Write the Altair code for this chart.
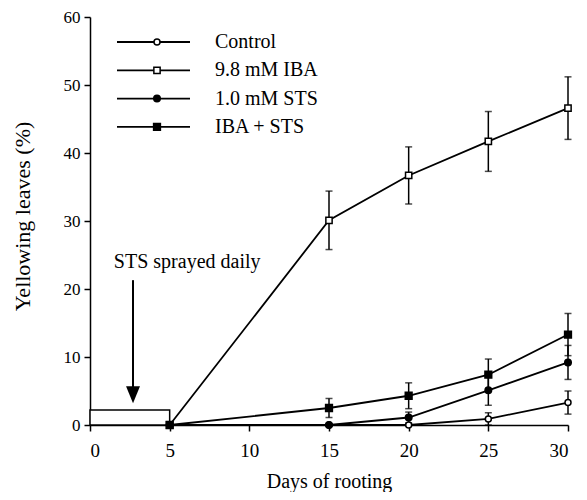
import altair as alt
import pandas as pd

# ---- data ----
days = [5, 15, 20, 25, 30]
series = ["Control", "9.8 mM IBA", "1.0 mM STS", "IBA + STS"]
control = [0, 0, 0, 0.9, 3.3]
control_err = [0, 0, 0, 0.9, 1.7]
iba = [0, 30.1, 36.7, 41.7, 46.6]
iba_err = [0, 4.3, 4.2, 4.4, 4.6]
sts = [0, 0, 1.1, 5.1, 9.2]
sts_err = [0, 0, 0.8, 2.2, 2.5]
ibasts = [0, 2.5, 4.3, 7.4, 13.3]
ibasts_err = [0, 1.4, 1.9, 2.3, 3.1]

spray_days = [0, 5]
spray_box_height = 2.2
arrow_day = 2.7
arrow_from, arrow_to = 21.3, 5.5
arrow_head = 4.45
note_text = "STS sprayed daily"
note_day, note_value = 6.1, 24.0

FONT = "Liberation Serif"

values = [control, iba, sts, ibasts]
errors = [control_err, iba_err, sts_err, ibasts_err]
rows = []
for s, vals, errs in zip(series, values, errors):
    for d, v, e in zip(days, vals, errs):
        rows.append({"series": s, "day": d, "value": v, "err": e,
                     "lo": v - e, "hi": v + e})
df = pd.DataFrame(rows)
df_err = df[df["err"] > 0]

shape_scale = alt.Scale(domain=series, range=["circle", "square", "circle", "square"])
fill_scale = alt.Scale(domain=series, range=["white", "white", "black", "black"])
size_scale = alt.Scale(domain=series, range=[36, 46, 42, 50])

xs = alt.Scale(domain=[0, 30], nice=False, zero=False)
ys = alt.Scale(domain=[0, 60], nice=False)

x_axis = alt.Axis(values=[0, 5, 10, 15, 20, 25, 30], title="Days of rooting",
                  grid=False, domainColor="black", domainWidth=1.5,
                  tickColor="black", tickWidth=1.5, tickSize=6,
                  labelFont=FONT, labelFontSize=19, labelColor="black",
                  labelPadding=10, titleFont=FONT, titleFontSize=20,
                  titleFontWeight="normal", titleColor="black",
                  titleY=56, titleBaseline="middle")
y_axis = alt.Axis(values=[0, 10, 20, 30, 40, 50, 60], title="Yellowing leaves (%)",
                  grid=False, domainColor="black", domainWidth=1.5,
                  tickColor="black", tickWidth=1.5, tickSize=6,
                  labelFont=FONT, labelFontSize=17, labelColor="black",
                  labelPadding=4, titleFont=FONT, titleFontSize=22,
                  titleFontWeight="normal", titleColor="black",
                  titleX=-68, titleY=199, titleAngle=270, titleBaseline="middle",
                  titleAlign="center")

base = alt.Chart(df)

box = alt.Chart(pd.DataFrame({"x": [spray_days[0]], "x2": [spray_days[1]],
                              "y": [0], "y2": [spray_box_height]})).mark_rect(
    fill="white", stroke="black", strokeWidth=1.5).encode(
    x=alt.X("x:Q", scale=xs, axis=x_axis), x2="x2:Q",
    y=alt.Y("y:Q", scale=ys, axis=y_axis), y2="y2:Q")

lines = base.mark_line(color="black", strokeWidth=1.8).encode(
    x=alt.X("day:Q", scale=xs),
    y=alt.Y("value:Q", scale=ys),
    detail="series:N")

err_rules = alt.Chart(df_err).mark_rule(color="black", strokeWidth=1.5).encode(
    x=alt.X("day:Q", scale=xs), y=alt.Y("lo:Q", scale=ys), y2="hi:Q")
cap_lo = alt.Chart(df_err).mark_tick(color="black", thickness=1.5, size=7,
                                     orient="horizontal").encode(
    x=alt.X("day:Q", scale=xs), y=alt.Y("lo:Q", scale=ys))
cap_hi = alt.Chart(df_err).mark_tick(color="black", thickness=1.5, size=7,
                                     orient="horizontal").encode(
    x=alt.X("day:Q", scale=xs), y=alt.Y("hi:Q", scale=ys))

points = base.mark_point(stroke="black", strokeWidth=1.5, opacity=1,
                         filled=False).encode(
    x=alt.X("day:Q", scale=xs),
    y=alt.Y("value:Q", scale=ys),
    shape=alt.Shape("series:N", scale=shape_scale, legend=None),
    fill=alt.Fill("series:N", scale=fill_scale, legend=None),
    size=alt.Size("series:N", scale=size_scale, legend=None))

arrow_df = pd.DataFrame({"x": [arrow_day], "y": [arrow_from], "y2": [arrow_to],
                         "h": [arrow_head]})
arrow_line = alt.Chart(arrow_df).mark_rule(color="black", strokeWidth=2).encode(
    x=alt.X("x:Q", scale=xs), y=alt.Y("y:Q", scale=ys), y2="y2:Q")
arrow_tip = alt.Chart(arrow_df).mark_point(
    shape="M-0.82,-1L0.82,-1L0,1Z", filled=True, color="black", size=289,
    opacity=1).encode(x=alt.X("x:Q", scale=xs), y=alt.Y("h:Q", scale=ys))

note = alt.Chart(pd.DataFrame({"x": [note_day], "y": [note_value], "t": [note_text]})).mark_text(
    font=FONT, fontSize=20, color="black", align="center", baseline="middle").encode(
    x=alt.X("x:Q", scale=xs), y=alt.Y("y:Q", scale=ys), text="t:N")

# ---- legend drawn in pixel space ----
leg_rows = pd.DataFrame({"series": series, "i": list(range(len(series)))})
LEG_Y0, LEG_DY = 25.0, 28.3
leg = alt.Chart(leg_rows).transform_calculate(
    py=f"{LEG_Y0} + datum.i * {LEG_DY}", x1="27", x2="100", xm="67", xt="125")
leg_lines = leg.mark_rule(color="black", strokeWidth=1.8).encode(
    x=alt.X("x1:Q", scale=None), x2="x2:Q", y=alt.Y("py:Q", scale=None))
leg_pts = leg.mark_point(stroke="black", strokeWidth=1.5, opacity=1, filled=False).encode(
    x=alt.X("xm:Q", scale=None), y=alt.Y("py:Q", scale=None),
    shape=alt.Shape("series:N", scale=shape_scale, legend=None),
    fill=alt.Fill("series:N", scale=fill_scale, legend=None),
    size=alt.Size("series:N", scale=size_scale, legend=None))
leg_text = leg.mark_text(font=FONT, fontSize=20, color="black", align="left",
                         baseline="middle").encode(
    x=alt.X("xt:Q", scale=None), y=alt.Y("py:Q", scale=None), text="series:N")

chart = alt.layer(
    box, lines, err_rules, cap_lo, cap_hi, points,
    arrow_line, arrow_tip, note, leg_lines, leg_pts, leg_text
).resolve_scale(
    shape="shared", fill="shared", size="shared"
).properties(
    width=478, height=408,
    autosize=alt.AutoSizeParams(type="none"),
    padding={"left": 82, "top": 9, "right": 11, "bottom": 67},
    background="white"
).configure_view(stroke=None)

chart.save("out.html", embed_options={"renderer": "svg", "actions": False})
